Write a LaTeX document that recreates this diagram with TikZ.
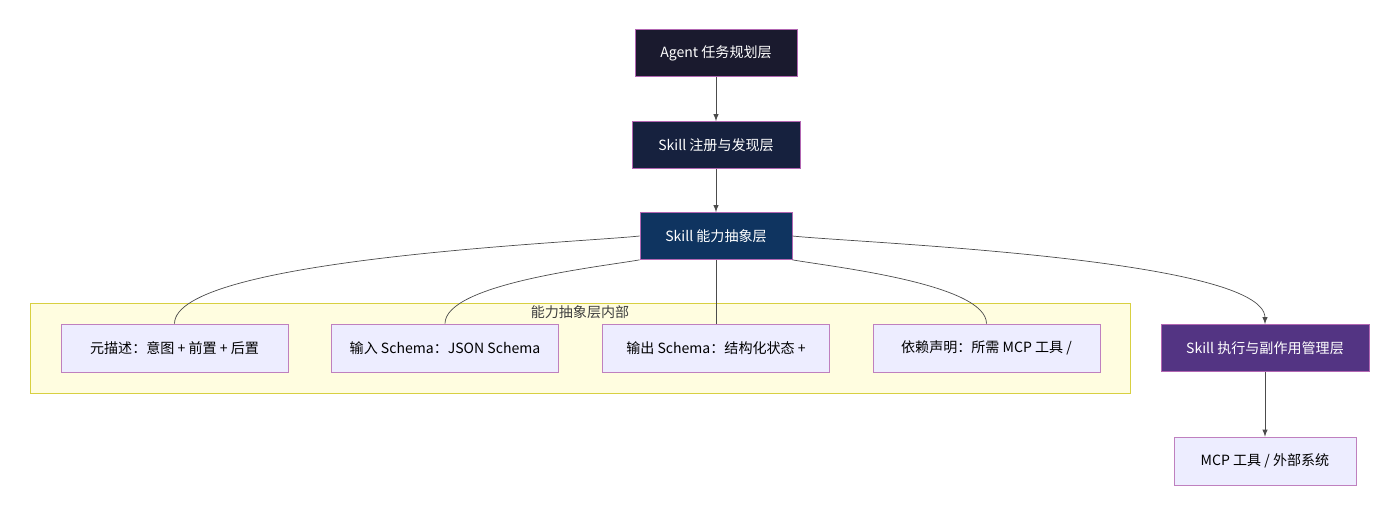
\documentclass[tikz,border=0pt]{standalone}
\usepackage{fontspec}
\setmainfont{Noto Sans CJK SC}
\begin{document}
\begin{tikzpicture}[x=0.02cm,y=-0.02cm,
  dark/.style={draw=violet!60,text=white,minimum height=0.94cm,font=\fontsize{8}{10}\selectfont},
  inner/.style={draw=violet!50,fill=blue!7,minimum width=4.54cm,minimum height=0.96cm,font=\fontsize{8}{10}\selectfont},
  arr/.style={draw=black!70,-latex}]
\useasboundingbox (0,0) rectangle (1400,515);
\definecolor{cA}{HTML}{1A1A2E}
\definecolor{cB}{HTML}{16213E}
\definecolor{cC}{HTML}{0F3460}
\definecolor{cD}{HTML}{533483}
\node[draw=yellow!50!olive!70,fill=yellow!12,minimum width=22cm,minimum height=1.8cm] (box) at (580,348) {};
\node[font=\fontsize{8}{10}\selectfont,text=black!75] (boxlbl) at (580,312) {能力抽象层内部};

\node[dark,fill=cA,minimum width=3.24cm] (agent) at (716,53) {Agent 任务规划层};
\node[dark,fill=cB,minimum width=3.36cm] (reg) at (716,145) {Skill 注册与发现层};
\node[dark,fill=cC,minimum width=3.04cm] (abs) at (716,236) {Skill 能力抽象层};
\node[inner] (meta) at (174.5,348) {元描述：意图 + 前置 + 后置};
\node[inner] (input) at (445,348) {输入 Schema：JSON Schema};
\node[inner] (output) at (716,348) {输出 Schema：结构化状态 +};
\node[inner] (dep) at (986.5,348) {依赖声明：所需 MCP 工具 /};
\node[dark,fill=cD,minimum width=4.16cm] (exec) at (1265,348) {Skill 执行与副作用管理层};
\node[inner,minimum width=3.64cm] (mcp) at (1265,461) {MCP 工具 / 外部系统};

\draw[arr] (agent) -- (reg);
\draw[arr] (reg) -- (abs);
\draw[black!70] (abs.west) to[out=186,in=90,looseness=0.35] (meta.north);
\draw[black!70] (abs.south west) to[out=190,in=90,looseness=0.5] (input.north);
\draw[black!70] (abs) -- (output);
\draw[black!70] (abs.south east) to[out=-10,in=90,looseness=0.5] (dep.north);
\draw[arr] (abs.east) to[out=-6,in=90,looseness=0.35] (exec.north);
\draw[arr] (exec) -- (mcp);
\end{tikzpicture}
\end{document}
